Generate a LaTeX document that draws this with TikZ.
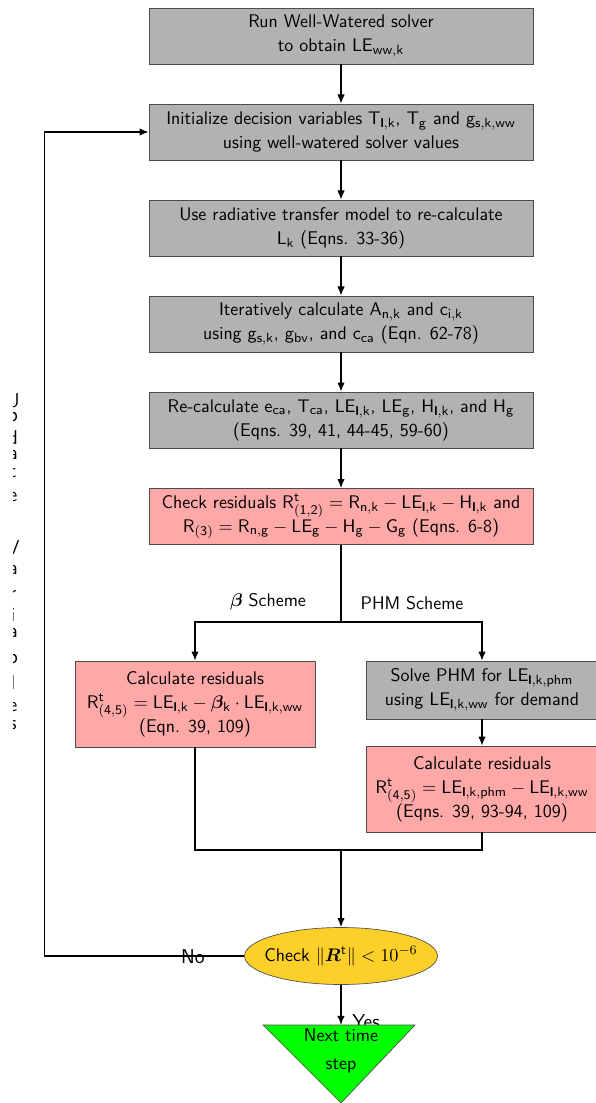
\documentclass[tikz,border=0pt]{standalone}
\usepackage{amsmath,bm}
\usetikzlibrary{arrows.meta,shapes.geometric}

\definecolor{boxgray}{RGB}{178,178,178}
\definecolor{boxpink}{RGB}{255,168,168}
\definecolor{checkyellow}{RGB}{252,208,40}
\definecolor{nextgreen}{RGB}{0,255,0}

% sans subscripts
\newcommand{\mv}[2]{\mathsf{#1}_{\mathsf{#2}}}
\newcommand{\sv}[2]{$\mv{#1}{#2}$}
\newcommand{\lf}{\textbf{l}}
\newcommand{\rt}[1]{\mathsf{R}^{\mathsf{t}}_{\mathsf{#1}}}

\begin{document}
\begin{tikzpicture}[x=0.6pt, y=-0.6pt, font=\sffamily\fontsize{11}{14.4}\selectfont,
    >={Latex[length=5.5pt,width=4.5pt]},
    flow/.style={line width=0.8pt},
    graybox/.style={draw=black!70, fill=boxgray, align=center, inner sep=2pt,
        minimum width=230.4pt, minimum height=33.6pt},
    pinkbox/.style={graybox, fill=boxpink}]
    \useasboundingbox (0,0) rectangle (595,1103);

    \node[graybox] (runww) at (341,36) {Run Well-Watered solver\\ to obtain \sv{LE}{ww,k}};
    \node[graybox] (init) at (341,132) {Initialize decision variables \sv{T}{\lf,k}, \sv{T}{g} and \sv{g}{s,k,ww}\\ using well-watered solver values};
    \node[graybox] (radtr) at (341,228) {Use radiative transfer model to re-calculate\\ \sv{L}{k} (Eqns. 33-36)};
    \node[graybox] (photo) at (341,324) {Iteratively calculate \sv{A}{n,k} and \sv{c}{i,k}\\ using \sv{g}{s,k}, \sv{g}{bv}, and \sv{c}{ca} (Eqn. 62-78)};
    \node[graybox] (recalc) at (341,420) {Re-calculate \sv{e}{ca}, \sv{T}{ca}, \sv{LE}{\lf,k}, \sv{LE}{g}, \sv{H}{\lf,k}, and \sv{H}{g}\\ (Eqns. 39, 41, 44-45, 59-60)};
    \node[pinkbox] (resid) at (341,516.5) {Check residuals $\rt{(1,2)} = \mv{R}{n,k} - \mv{LE}{\lf,k} - \mv{H}{\lf,k}$ and\\ $\mv{R}{(3)} = \mv{R}{n,g} - \mv{LE}{g} - \mv{H}{g} - \mv{G}{g}$ (Eqns. 6-8)};

    \coordinate (split) at (341,622);
    \node (betalbl) at (268,602) {$\bm{\beta}$ Scheme};
    \node (phmlbl) at (412,603) {PHM Scheme};

    \node[pinkbox, minimum width=144pt, minimum height=51.6pt] (betares) at (195,704) {Calculate residuals\\ $\rt{(4,5)} = \mv{LE}{\lf,k} - \bm{\beta}_{\mathsf{k}}\cdot\mv{LE}{\lf,k,ww}$\\ (Eqn. 39, 109)};
    \node[graybox, minimum width=139.2pt, minimum height=34.8pt] (phmsolve) at (482,690) {Solve PHM for \sv{LE}{\lf,k,phm}\\ using \sv{LE}{\lf,k,ww} for demand};
    \node[pinkbox, minimum width=139.2pt, minimum height=51.6pt] (phmres) at (482,789) {Calculate residuals\\ $\rt{(4,5)} = \mv{LE}{\lf,k,phm} - \mv{LE}{\lf,k,ww}$\\ (Eqns. 39, 93-94, 109)};

    \coordinate (merge) at (341,850);
    \node[ellipse, draw=black!70, fill=checkyellow, inner xsep=-5.5pt, inner ysep=0pt,
        minimum width=115.8pt, minimum height=34.2pt] (conv) at (341,956) {Check $\|\bm{R}^{\mathsf{t}}\| < 10^{-6}$};

    \node[font=\sffamily\large, anchor=base, inner sep=0pt] (yeslbl) at (366,1028) {Yes};
    \filldraw[fill=nextgreen, draw=black!70] (263,1025) -- (415,1025) -- (341,1103) -- cycle;
    \coordinate (nexttop) at (341,1025);
    \node[align=center] (nextstep) at (341,1051) {Next time\\[2pt] step};
    \node[font=\sffamily\large] (nolbl) at (193,957) {No};

    % letters of the loop label
    \begin{scope}
        \clip (13,380) rectangle (40,740);
        \foreach \ch/\yy [count=\i] in {U/401, p/419, d/438, a/455, t/472, e/497,
                V/548, a/570, r/595, i/615, a/633, b/657, l/683, e/707, s/725}
            \node[font=\sffamily\fontsize{12}{14}\selectfont, inner sep=0pt] (upd\i) at (13,\yy) {\ch};
    \end{scope}

    \draw[flow,->] (runww) -- (init);
    \draw[flow,->] (init) -- (radtr);
    \draw[flow,->] (radtr) -- (photo);
    \draw[flow,->] (photo) -- (recalc);
    \draw[flow,->] (recalc) -- (resid);
    \draw[flow] (resid) -- (split);
    \draw[flow,->] (split) -| (betares);
    \draw[flow,->] (split) -| (phmsolve);
    \draw[flow,->] (phmsolve) -- (phmres);
    \draw[flow] (betares) |- (merge) -| (phmres);
    \draw[flow,->] (merge) -- (conv);
    \draw[flow,->] (conv) -- (nexttop);
    \draw[flow,->] (conv.west) -- ++(-200,0) |- (init.west);
\end{tikzpicture}
\end{document}
